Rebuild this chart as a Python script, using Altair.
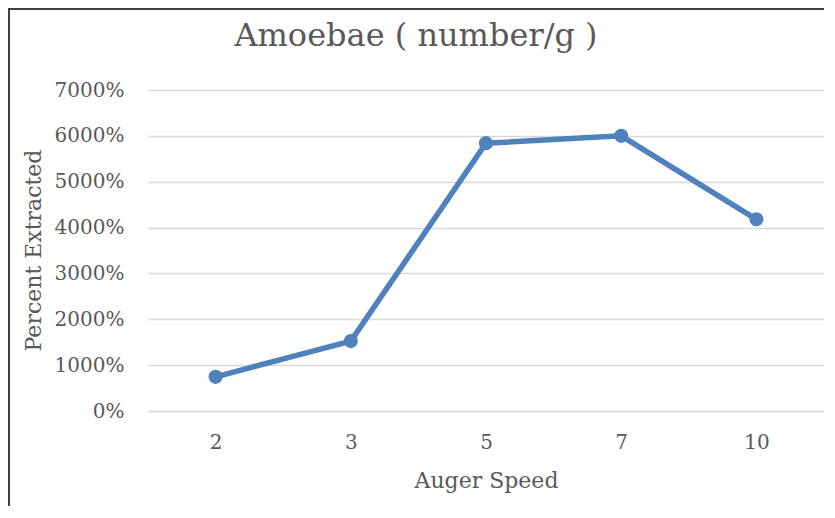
import altair as alt
import pandas as pd

speeds = ["2", "3", "5", "7", "10"]
percent_extracted = [7.45, 15.25, 58.4, 60.0, 41.8]  # fraction (1.0 = 100%)

title_text = "Amoebae ( number/g )"
x_title = "Auger Speed"
y_title = "Percent Extracted"

df = pd.DataFrame({"speed": speeds, "pct": percent_extracted})

FONT = "DejaVu Serif"
TXT = "#595959"
BLUE = "#4F81BD"

W, H = 676, 321

x_enc = alt.X(
    "speed:N",
    sort=speeds,
    scale=alt.Scale(type="point", padding=0.5),
    axis=alt.Axis(
        title=x_title,
        labelAngle=0,
        domain=False,
        ticks=False,
        tickSize=0,
        grid=False,
        labelPadding=21,
        labelFont=FONT,
        labelFontSize=20,
        labelColor=TXT,
        titleFont=FONT,
        titleFontSize=22,
        titleFontWeight="normal",
        titleColor=TXT,
        titleBaseline="alphabetic",
        titleY=76,
    ),
)

y_enc = alt.Y(
    "pct:Q",
    scale=alt.Scale(domain=[0, 70], nice=False),
    axis=alt.Axis(
        title=y_title,
        values=[0, 10, 20, 30, 40, 50, 60, 70],
        format=".0%",
        domain=False,
        ticks=False,
        tickSize=0,
        labelPadding=24,
        labelFont=FONT,
        labelFontSize=20,
        labelColor=TXT,
        gridColor="#D9D9D9",
        gridWidth=1.5,
        titleFont=FONT,
        titleFontSize=22,
        titleFontWeight="normal",
        titleColor=TXT,
        titleBaseline="alphabetic",
        titleAngle=270,
        titleX=-108,
        titleY=160,
    ),
)

line = alt.Chart(df).mark_line(
    color=BLUE, strokeWidth=5.5, point=alt.OverlayMarkDef(color=BLUE, size=200, filled=True, opacity=1)
).encode(x=x_enc, y=y_enc)

border = alt.Chart(pd.DataFrame({"a": [0]})).mark_rect(
    fillOpacity=0, stroke="#404040", strokeWidth=2
).encode(
    x=alt.value(-139), x2=alt.value(W + 40), y=alt.value(-81), y2=alt.value(H + 150)
)

chart = alt.layer(border, line).properties(
    width=W,
    height=H,
    background="white",
    title=alt.TitleParams(
        text=title_text,
        font=FONT,
        fontSize=32,
        fontWeight="normal",
        color=TXT,
        anchor="middle",
        baseline="alphabetic",
        offset=0,
        dx=-70,
        dy=70,
    ),
    autosize=alt.AutoSizeParams(type="none"),
    padding={"left": 140, "top": 82, "right": 0, "bottom": 95},
).configure_view(stroke=None)

chart.save("out.html", embed_options={"renderer": "svg", "actions": False})
